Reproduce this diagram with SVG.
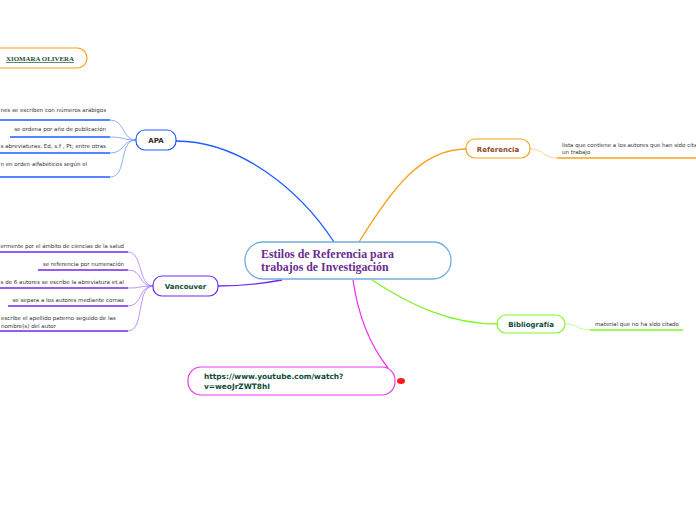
<svg xmlns="http://www.w3.org/2000/svg" width="696" height="520" viewBox="0 0 696 520">
<style>
.lbl{font-family:"DejaVu Sans",Verdana,sans-serif;font-weight:bold;font-size:7px}
.sub{font-family:"DejaVu Sans",Verdana,sans-serif;font-size:5.5px;fill:#333}
</style>
<rect width="696" height="520" fill="#fff"/>
<g id="connectors" fill="none">
  <path d="M334,242 C300,190 240,141 176,141" stroke="#1f5cff" stroke-width="1.3"/>
  <path d="M359,242 C390,192 420,149 466,149" stroke="#f7a21b" stroke-width="1.3"/>
  <path d="M282,280 C260,284 240,286 218,286" stroke="#7028f0" stroke-width="1.3"/>
  <path d="M372,280 C410,305 450,324 497,324" stroke="#80f526" stroke-width="1.3"/>
  <path d="M353,280 C358,315 370,345 388,368" stroke="#ea36f0" stroke-width="1.3"/>
  <g stroke="#6f9cff" stroke-width="0.8">
    <path d="M136,140 C122,140 125,120 110,120"/>
    <path d="M136,140 C122,140 125,137 110,137"/>
    <path d="M136,140 C122,140 125,153 110,153"/>
    <path d="M136,140 C118,140 128,177 110,177"/>
  </g>
  <g stroke="#1f5cff" stroke-width="1.3">
    <path d="M0,120 H110"/><path d="M10,137 H110"/><path d="M0,153 H110"/><path d="M0,177 H110"/>
  </g>
  <g stroke="#a47cff" stroke-width="0.8">
    <path d="M153,286 C138,286 143,252 128,252"/>
    <path d="M153,286 C138,286 143,270 128,270"/>
    <path d="M153,286 C138,286 143,288 128,288"/>
    <path d="M153,286 C138,286 143,306 128,306"/>
    <path d="M153,286 C136,286 145,331 128,331"/>
  </g>
  <g stroke="#7028f0" stroke-width="1.3">
    <path d="M0,252 H128"/><path d="M38,270 H128"/><path d="M0,288 H128"/><path d="M8,306 H128"/><path d="M0,331 H128"/>
  </g>
  <path d="M530,149 C545,149 542,158 557,158" stroke="#fbc777" stroke-width="0.8"/>
  <path d="M557,158 H696" stroke="#f7a21b" stroke-width="1.3"/>
  <path d="M565,324 C578,324 577,330 590,330" stroke="#b5fa80" stroke-width="0.8"/>
  <path d="M590,330 H683" stroke="#80f526" stroke-width="1.3"/>
</g>
<g id="xiomara">
  <rect x="-20" y="48" width="107" height="20" rx="10" fill="#fff" stroke="#f7a21b" stroke-width="1.2"/>
  <text x="6" y="61" style="font-family:'Liberation Serif',serif;font-weight:bold;font-size:6.9px;fill:#1d4d3d;text-decoration:underline">XIOMARA OLIVERA</text>
</g>
<g id="center">
  <rect x="245" y="242" width="206" height="37" rx="18" fill="#fff" stroke="#72aee0" stroke-width="1.3"/>
  <text style="font-family:'Liberation Serif',serif;font-weight:bold;font-size:11.9px;fill:#6a2c91"><tspan x="261" y="258">Estilos de Referencia para</tspan><tspan x="261" y="271">trabajos de Investigación</tspan></text>
</g>
<g id="apa">
  <rect x="136" y="130" width="40" height="20" rx="9" fill="#fff" stroke="#1f5cff" stroke-width="1.2"/>
  <text x="156" y="143" text-anchor="middle" class="lbl" fill="#3a2a1e">APA</text>
  <text x="0.5" y="112" class="sub" textLength="105.5" lengthAdjust="spacingAndGlyphs">nes se escriben con números arábigos</text>
  <text x="106" y="131" text-anchor="end" class="sub">se ordena por año de publicación</text>
  <text x="0.5" y="148" class="sub" textLength="105.5" lengthAdjust="spacingAndGlyphs">s abreviaturas: Ed, s.f , Pt; entre otras</text>
  <text x="0.5" y="166" class="sub">n en orden alfabéticos según el</text>
</g>
<g id="vancouver">
  <rect x="153" y="276" width="65" height="20" rx="9" fill="#fff" stroke="#7028f0" stroke-width="1.2"/>
  <text x="185.5" y="289" text-anchor="middle" class="lbl" fill="#0e4a3a">Vancouver</text>
  <text x="0.5" y="248" class="sub" textLength="123.5" lengthAdjust="spacingAndGlyphs">ermente por el ámbito de ciencias de la salud</text>
  <text x="124" y="266" text-anchor="end" class="sub">se referencia por numeración</text>
  <text x="0.5" y="284" class="sub" textLength="123.5" lengthAdjust="spacingAndGlyphs">s de 6 autores se escribe la abreviatura et.al</text>
  <text x="124" y="302" text-anchor="end" class="sub">se separa a los autores mediante comas</text>
  <text class="sub"><tspan x="1" y="320">escribe el apellido paterno seguido de las</tspan><tspan x="1" y="328">nombre(s) del autor</tspan></text>
</g>
<g id="referencia">
  <rect x="466" y="139" width="64" height="19" rx="9" fill="#fff" stroke="#f7a21b" stroke-width="1.2"/>
  <text x="498" y="151.5" text-anchor="middle" class="lbl" fill="#8a4a1c">Referencia</text>
  <text class="sub"><tspan x="562" y="147">lista que contiene a los autores que han sido cita</tspan><tspan x="562" y="154">un trabajo</tspan></text>
</g>
<g id="bibliografia">
  <rect x="497" y="315" width="68" height="18" rx="9" fill="#fff" stroke="#80f526" stroke-width="1.2"/>
  <text x="531" y="327" text-anchor="middle" class="lbl" fill="#0e4a3a">Bibliografía</text>
  <text x="595" y="326" class="sub">material que no ha sido citado</text>
</g>
<g id="youtube">
  <rect x="188" y="367" width="207" height="28" rx="13" fill="#fff" stroke="#ea36f0" stroke-width="1.2"/>
  <text class="lbl" style="font-size:7.4px" fill="#0e4a3a"><tspan x="204" y="379">https://www.youtube.com/watch?</tspan><tspan x="204" y="389">v=weoJrZWT8hI</tspan></text>
  <ellipse cx="401" cy="381" rx="4" ry="3" fill="#ff1a1a"/>
</g>
</svg>
